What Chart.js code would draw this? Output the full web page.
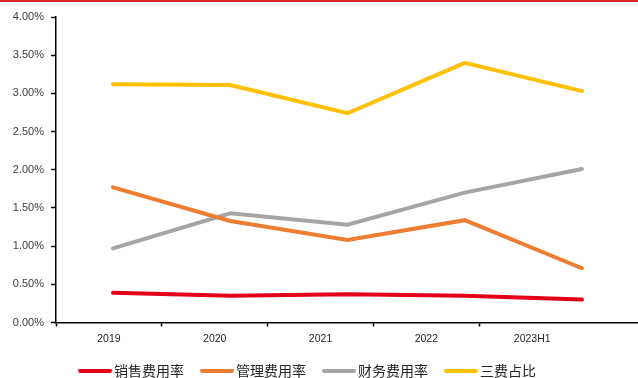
<!DOCTYPE html>
<html>
<head>
<meta charset="utf-8">
<script src="https://cdn.jsdelivr.net/npm/chart.js@4/dist/chart.umd.min.js"></script>
<style>
  html, body { margin: 0; padding: 0; background: #ffffff; }
  #wrap { position: relative; width: 638px; height: 378px; overflow: hidden; }
  #topRule { position: absolute; left: 0; top: 0; width: 638px; height: 2px; background: #d42a2a; }
  canvas { display: block; }
</style>
</head>
<body>
<div id="wrap">
  <canvas id="c" width="638" height="378"></canvas>
  <div id="topRule"></div>
</div>
<script>
// Periods on the horizontal axis
const periods = ['2019', '2020', '2021', '2022', '2023H1'];

// Expense ratios, in percent of revenue
const sellingRate = [0.39, 0.35, 0.37, 0.35, 0.30];   // 销售费用率
const adminRate   = [1.77, 1.33, 1.08, 1.34, 0.71];   // 管理费用率
const financeRate = [0.97, 1.43, 1.28, 1.70, 2.01];   // 财务费用率
const totalRate   = [3.12, 3.11, 2.74, 3.40, 3.03];   // 三费占比

// Value axis ticks
const yTicks = [0, 0.5, 1, 1.5, 2, 2.5, 3, 3.5, 4];

const seriesNames  = ['销售费用率', '管理费用率', '财务费用率', '三费占比'];
const seriesColors = ['#e3001b', '#ed7d31', '#a5a5a5', '#ffc000'];
const seriesValues = [sellingRate, adminRate, financeRate, totalRate];

// Small line swatches for the legend (line sits on the left of the swatch canvas)
function makeSwatch(color) {
  const cv = document.createElement('canvas');
  cv.width = 53; cv.height = 4;
  const g = cv.getContext('2d');
  g.fillStyle = color;
  g.beginPath();
  g.roundRect(0, 0, 34, 4, 2);
  g.fill();
  return cv;
}
const swatches = seriesColors.map(makeSwatch);

const toPoints = arr => arr.map((v, i) => ({ x: i, y: v }));

const datasets = seriesNames.map((name, k) => ({
  label: name,
  data: toPoints(seriesValues[k]),
  xAxisID: 'xd',
  yAxisID: 'y',
  borderColor: seriesColors[k],
  backgroundColor: seriesColors[k],
  borderWidth: 4,
  borderCapStyle: 'round',
  borderJoinStyle: 'miter',
  pointRadius: 0,
  pointHoverRadius: 0,
  tension: 0,
  fill: false
}));

const axisFont = { family: '"Liberation Sans", Arial, sans-serif', size: 11 };

// Lift the legend row so it sits closer under the period labels
const legendLift = {
  id: 'legendLift',
  afterLayout(chart) {
    const lg = chart.legend;
    if (!lg) return;
    const dy = 323.5 - lg.top;
    lg.top += dy;
    lg.bottom += dy;
  }
};

new Chart(document.getElementById('c'), {
  type: 'line',
  data: { labels: periods, datasets },
  plugins: [legendLift],
  options: {
    responsive: false,
    devicePixelRatio: 1,
    animation: false,
    events: [],
    layout: { padding: { top: 17, left: 0, right: 0, bottom: -33.5 } },
    scales: {
      // label axis: one slot per period, ticks between slots
      x: {
        type: 'linear',
        position: 'bottom',
        min: -0.5,
        max: 5,
        afterBuildTicks: s => { s.ticks = periods.map((p, i) => ({ value: i })); },
        afterFit: s => { s.height = 25; },
        ticks: {
          callback: v => periods[v],
          autoSkip: false,
          maxRotation: 0,
          padding: 6,
          color: '#262626',
          font: { family: '"Liberation Sans", Arial, sans-serif', size: 10.5 }
        },
        grid: {
          offset: true,
          drawOnChartArea: false,
          drawTicks: true,
          tickLength: 4,
          tickWidth: 1.5,
          tickColor: c => (c.type === 'tick' ? '#000000' : 'rgba(0,0,0,0)')
        },
        border: { display: true, color: '#000000', width: 1.5 }
      },
      // position axis for the series
      xd: {
        type: 'linear',
        display: false,
        min: -0.486,
        max: 4.478
      },
      y: {
        type: 'linear',
        position: 'left',
        min: 0,
        max: 4,
        afterFit: s => { s.width = 56; },
        afterBuildTicks: s => { s.ticks = yTicks.map(v => ({ value: v })); },
        ticks: {
          callback: v => v.toFixed(2) + '%',
          padding: 7,
          color: '#404040',
          font: axisFont
        },
        grid: {
          drawOnChartArea: false,
          drawTicks: true,
          tickLength: 5,
          tickWidth: 1.5,
          tickColor: '#000000'
        },
        border: { display: true, color: '#000000', width: 1.5 }
      }
    },
    plugins: {
      tooltip: { enabled: false },
      title: { display: false },
      legend: {
        display: true,
        position: 'bottom',
        align: 'center',
        labels: {
          usePointStyle: true,
          pointStyleWidth: 5,
          padding: 40,
          color: '#262626',
          font: { family: '"Noto Sans CJK SC", "Noto Sans", sans-serif', size: 14 },
          generateLabels: chart => {
            const items = Chart.defaults.plugins.legend.labels.generateLabels(chart);
            items.forEach((it, i) => { it.pointStyle = swatches[i]; });
            return items;
          }
        }
      }
    }
  }
});
</script>
</body>
</html>
